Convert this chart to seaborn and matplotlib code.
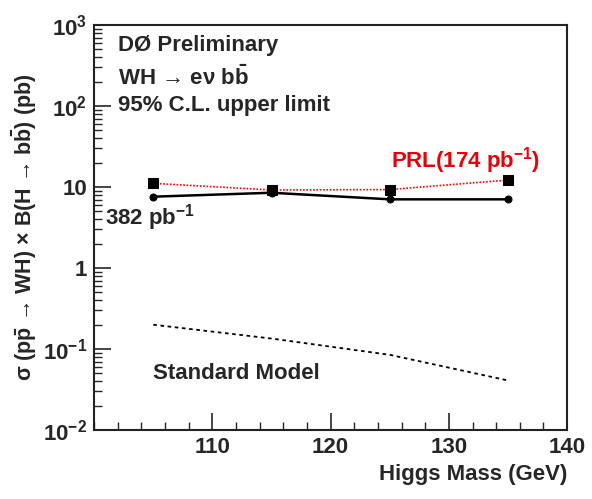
import matplotlib
matplotlib.use("Agg")
import matplotlib.pyplot as plt
import seaborn as sns
import pandas as pd
from matplotlib.ticker import FixedLocator, FixedFormatter, LogLocator, NullFormatter, MultipleLocator

# Data
mass = [105, 115, 125, 135]
limit_382 = [7.6, 8.5, 7.05, 7.05]
limit_prl = [11.1, 9.2, 9.3, 12.2]
sm_xsec = [0.20, 0.135, 0.085, 0.041]

ytick_vals = [1e-2, 1e-1, 1, 10, 1e2, 1e3]
ytick_labels = [r'$10^{-2}$', r'$10^{-1}$', '1', '10', r'$10^{2}$', r'$10^{3}$']
xtick_vals = [110, 120, 130, 140]

sns.set_style("white")
FONT = ['Liberation Sans', 'DejaVu Sans']
plt.rcParams['font.family'] = FONT
plt.rcParams['font.weight'] = 'bold'
plt.rcParams['mathtext.fontset'] = 'custom'
plt.rcParams['mathtext.rm'] = 'Liberation Sans:bold'
plt.rcParams['mathtext.it'] = 'Liberation Sans:italic:bold'
plt.rcParams['mathtext.bf'] = 'Liberation Sans:bold'
plt.rcParams['mathtext.sf'] = 'Liberation Sans:bold'

fig = plt.figure(figsize=(5.92, 4.99), dpi=100)
ax = fig.add_axes([0.159, 0.138, 0.799, 0.812])

df = pd.DataFrame({'mass': mass, 'l382': limit_382, 'prl': limit_prl, 'sm': sm_xsec})

sns.lineplot(data=df, x='mass', y='prl', ax=ax, color='red', linestyle=(0, (1, 1)),
             linewidth=1.2, marker='s', markersize=6.5, markerfacecolor='black',
             markeredgecolor='black')
sns.lineplot(data=df, x='mass', y='l382', ax=ax, color='black', linewidth=1.8,
             marker='o', markersize=5, markerfacecolor='black', markeredgecolor='black')
sns.lineplot(data=df, x='mass', y='sm', ax=ax, color='black', linestyle=(0, (2, 2)),
             linewidth=1.3)

ax.set_yscale('log')
ax.set_ylim(1e-2, 1e3)
ax.set_xlim(100, 140)

ax.yaxis.set_major_locator(FixedLocator(ytick_vals))
ax.yaxis.set_major_formatter(FixedFormatter(ytick_labels))
ax.yaxis.set_minor_locator(LogLocator(base=10, subs=range(2, 10), numticks=20))
ax.yaxis.set_minor_formatter(NullFormatter())
ax.xaxis.set_major_locator(FixedLocator(xtick_vals))
ax.xaxis.set_minor_locator(MultipleLocator(2))

ax.tick_params(axis='both', which='major', direction='in', length=12, width=1.2,
               labelsize=16, top=False, right=False, left=True, bottom=True, pad=5)
ax.tick_params(axis='both', which='minor', direction='in', length=6, width=1.0,
               top=False, right=False, left=True, bottom=True)

for s in ax.spines.values():
    s.set_color('#222222')
    s.set_linewidth(1.5)
    s.set_visible(True)

ax.set_xlabel('Higgs Mass (GeV)', fontsize=16, fontweight='bold', loc='right', labelpad=4)
ax.set_ylabel(r'σ (p$\bar{\rm p}$ → WH) × B(H → b$\bar{\rm b}$) (pb)',
              fontsize=15.5, fontweight='bold', labelpad=3)

tkw = dict(transform=ax.transData, fontsize=16, fontweight='bold', ha='left', va='center')
ax.text(102.0, 10**2.75, 'DØ Preliminary', **tkw)
ax.text(102.0, 10**2.35, r'WH → eν b$\bar{\rm b}$', **tkw)
ax.text(102.0, 10**2.01, '95% C.L. upper limit', **tkw)
ax.text(125.1, 10**1.33, r'PRL(174 pb$^{-1}$)', color='#e8000b', **tkw)
ax.text(100.9, 10**0.62, r'382 pb$^{-1}$', **tkw)
ax.text(105.0, 10**-1.30, 'Standard Model', **tkw)

ax.set_facecolor('white')
fig.patch.set_facecolor('white')
fig.savefig('out.png', dpi=100)
